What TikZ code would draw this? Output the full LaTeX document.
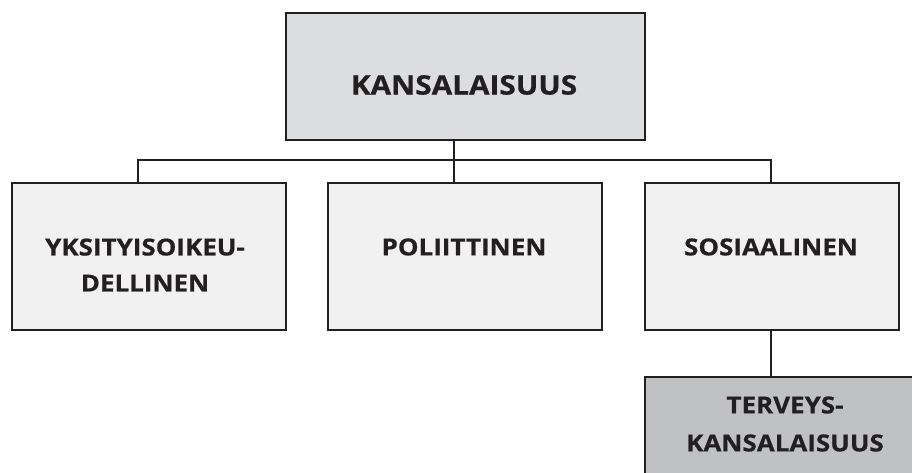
\documentclass[tikz,border=0pt]{standalone}
\usepackage{fontspec}
\setmainfont{Open Sans}[BoldFeatures={FakeStretch=1.11,FakeBold=0.6}]
\definecolor{topfill}{HTML}{DCDDDF}
\definecolor{midfill}{HTML}{F1F1F1}
\definecolor{lowfill}{HTML}{C0C1C3}
\definecolor{ink}{HTML}{231F20}
\begin{document}
\begin{tikzpicture}[x=1pt,y=-1pt,
  boxbase/.style={draw=ink,line width=2pt,inner sep=0pt,anchor=north west},
  topbox/.style={boxbase,fill=topfill},
  midbox/.style={boxbase,fill=midfill},
  lowbox/.style={boxbase,fill=lowfill},
  toplabel/.style={text=ink,font=\fontsize{26.8}{36}\selectfont\bfseries,align=center,inner sep=0pt},
  midlabel/.style={text=ink,font=\fontsize{23.4}{36}\selectfont\bfseries,align=center,inner sep=0pt},
  lowlabel/.style={text=ink,font=\fontsize{23.4}{38}\selectfont\bfseries,align=center,inner sep=0pt},
  link/.style={draw=ink,line width=2pt}]
\useasboundingbox (0,0) rectangle (912,472);
\clip (0,0) rectangle (912,472);
% boxes
\node[topbox,minimum width=359pt,minimum height=127pt] (k) at (285,12) {};
\node[midbox,minimum width=274pt,minimum height=147pt] (y) at (11,182) {};
\node[midbox,minimum width=274pt,minimum height=147pt] (p) at (327,182) {};
\node[midbox,minimum width=254pt,minimum height=147pt] (s) at (644,182) {};
\node[lowbox,minimum width=290pt,minimum height=120pt] (t) at (644,376) {};
% connectors
\coordinate (kdown) at (454,139);
\coordinate (bar) at (454,160);
\coordinate (yup) at (138,182);
\coordinate (pup) at (454,182);
\coordinate (sup) at (771,182);
\coordinate (sdown) at (771,329);
\coordinate (tup) at (771,376);
\draw[link] (kdown) -- (pup);
\draw[link] (yup) |- (bar) -| (sup);
\draw[link] (sdown) -- (tup);
% labels
\node[toplabel] (kl) at (464,85) {KANSALAISUUS};
\node[midlabel] (yl) at (145,265) {YKSITYISOIKEU-\\DELLINEN};
\node[midlabel] (pl) at (464,247) {POLIITTINEN};
\node[midlabel] (sl) at (771,247) {SOSIAALINEN};
\node[lowlabel] (tl) at (785,424) {TERVEYS-\\KANSALAISUUS};
\end{tikzpicture}
\end{document}
